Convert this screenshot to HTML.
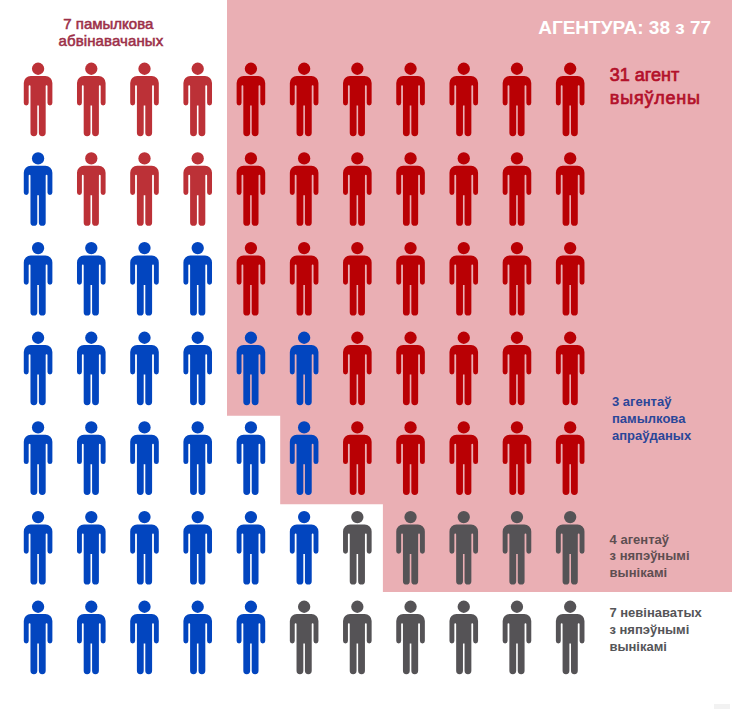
<!DOCTYPE html>
<html><head><meta charset="utf-8">
<style>
html,body{margin:0;padding:0;}
body{width:732px;height:709px;position:relative;overflow:hidden;background:#fff;font-family:"Liberation Sans",sans-serif;}
svg{position:absolute;left:0;top:0;}
.t{position:absolute;white-space:nowrap;font-weight:bold;}
</style></head><body>

<svg width="732" height="709" viewBox="0 0 732 709">
<path fill="#EAAFB4" d="M227 0 H732 V592 H382.9 V504.2 H280.2 V415.8 H227 Z"/>
<g fill="#BC3137" transform="translate(38.08,62.35)"><circle cx="0" cy="6.4" r="6.15"/><path d="M-14.3 40.6 V20.7 A7 7 0 0 1 -7.3 13.7 H7.3 A7 7 0 0 1 14.3 20.7 V40.6 A2.45 2.45 0 0 1 9.4 40.6 V23.7 A0.9 0.9 0 0 0 7.6 23.7 V43.2 H-7.6 V23.7 A0.9 0.9 0 0 0 -9.4 23.7 V40.6 A2.45 2.45 0 0 1 -14.3 40.6 Z M-7.6 40 H-0.8 V70.45 A3.4 3.4 0 0 1 -7.6 70.45 Z M0.8 40 H7.6 V70.45 A3.4 3.4 0 0 1 0.8 70.45 Z"/></g>
<g fill="#BC3137" transform="translate(91.29,62.35)"><circle cx="0" cy="6.4" r="6.15"/><path d="M-14.3 40.6 V20.7 A7 7 0 0 1 -7.3 13.7 H7.3 A7 7 0 0 1 14.3 20.7 V40.6 A2.45 2.45 0 0 1 9.4 40.6 V23.7 A0.9 0.9 0 0 0 7.6 23.7 V43.2 H-7.6 V23.7 A0.9 0.9 0 0 0 -9.4 23.7 V40.6 A2.45 2.45 0 0 1 -14.3 40.6 Z M-7.6 40 H-0.8 V70.45 A3.4 3.4 0 0 1 -7.6 70.45 Z M0.8 40 H7.6 V70.45 A3.4 3.4 0 0 1 0.8 70.45 Z"/></g>
<g fill="#BC3137" transform="translate(144.50,62.35)"><circle cx="0" cy="6.4" r="6.15"/><path d="M-14.3 40.6 V20.7 A7 7 0 0 1 -7.3 13.7 H7.3 A7 7 0 0 1 14.3 20.7 V40.6 A2.45 2.45 0 0 1 9.4 40.6 V23.7 A0.9 0.9 0 0 0 7.6 23.7 V43.2 H-7.6 V23.7 A0.9 0.9 0 0 0 -9.4 23.7 V40.6 A2.45 2.45 0 0 1 -14.3 40.6 Z M-7.6 40 H-0.8 V70.45 A3.4 3.4 0 0 1 -7.6 70.45 Z M0.8 40 H7.6 V70.45 A3.4 3.4 0 0 1 0.8 70.45 Z"/></g>
<g fill="#BC3137" transform="translate(197.71,62.35)"><circle cx="0" cy="6.4" r="6.15"/><path d="M-14.3 40.6 V20.7 A7 7 0 0 1 -7.3 13.7 H7.3 A7 7 0 0 1 14.3 20.7 V40.6 A2.45 2.45 0 0 1 9.4 40.6 V23.7 A0.9 0.9 0 0 0 7.6 23.7 V43.2 H-7.6 V23.7 A0.9 0.9 0 0 0 -9.4 23.7 V40.6 A2.45 2.45 0 0 1 -14.3 40.6 Z M-7.6 40 H-0.8 V70.45 A3.4 3.4 0 0 1 -7.6 70.45 Z M0.8 40 H7.6 V70.45 A3.4 3.4 0 0 1 0.8 70.45 Z"/></g>
<g fill="#B90004" transform="translate(250.92,62.35)"><circle cx="0" cy="6.4" r="6.15"/><path d="M-14.3 40.6 V20.7 A7 7 0 0 1 -7.3 13.7 H7.3 A7 7 0 0 1 14.3 20.7 V40.6 A2.45 2.45 0 0 1 9.4 40.6 V23.7 A0.9 0.9 0 0 0 7.6 23.7 V43.2 H-7.6 V23.7 A0.9 0.9 0 0 0 -9.4 23.7 V40.6 A2.45 2.45 0 0 1 -14.3 40.6 Z M-7.6 40 H-0.8 V70.45 A3.4 3.4 0 0 1 -7.6 70.45 Z M0.8 40 H7.6 V70.45 A3.4 3.4 0 0 1 0.8 70.45 Z"/></g>
<g fill="#B90004" transform="translate(304.13,62.35)"><circle cx="0" cy="6.4" r="6.15"/><path d="M-14.3 40.6 V20.7 A7 7 0 0 1 -7.3 13.7 H7.3 A7 7 0 0 1 14.3 20.7 V40.6 A2.45 2.45 0 0 1 9.4 40.6 V23.7 A0.9 0.9 0 0 0 7.6 23.7 V43.2 H-7.6 V23.7 A0.9 0.9 0 0 0 -9.4 23.7 V40.6 A2.45 2.45 0 0 1 -14.3 40.6 Z M-7.6 40 H-0.8 V70.45 A3.4 3.4 0 0 1 -7.6 70.45 Z M0.8 40 H7.6 V70.45 A3.4 3.4 0 0 1 0.8 70.45 Z"/></g>
<g fill="#B90004" transform="translate(357.34,62.35)"><circle cx="0" cy="6.4" r="6.15"/><path d="M-14.3 40.6 V20.7 A7 7 0 0 1 -7.3 13.7 H7.3 A7 7 0 0 1 14.3 20.7 V40.6 A2.45 2.45 0 0 1 9.4 40.6 V23.7 A0.9 0.9 0 0 0 7.6 23.7 V43.2 H-7.6 V23.7 A0.9 0.9 0 0 0 -9.4 23.7 V40.6 A2.45 2.45 0 0 1 -14.3 40.6 Z M-7.6 40 H-0.8 V70.45 A3.4 3.4 0 0 1 -7.6 70.45 Z M0.8 40 H7.6 V70.45 A3.4 3.4 0 0 1 0.8 70.45 Z"/></g>
<g fill="#B90004" transform="translate(410.55,62.35)"><circle cx="0" cy="6.4" r="6.15"/><path d="M-14.3 40.6 V20.7 A7 7 0 0 1 -7.3 13.7 H7.3 A7 7 0 0 1 14.3 20.7 V40.6 A2.45 2.45 0 0 1 9.4 40.6 V23.7 A0.9 0.9 0 0 0 7.6 23.7 V43.2 H-7.6 V23.7 A0.9 0.9 0 0 0 -9.4 23.7 V40.6 A2.45 2.45 0 0 1 -14.3 40.6 Z M-7.6 40 H-0.8 V70.45 A3.4 3.4 0 0 1 -7.6 70.45 Z M0.8 40 H7.6 V70.45 A3.4 3.4 0 0 1 0.8 70.45 Z"/></g>
<g fill="#B90004" transform="translate(463.76,62.35)"><circle cx="0" cy="6.4" r="6.15"/><path d="M-14.3 40.6 V20.7 A7 7 0 0 1 -7.3 13.7 H7.3 A7 7 0 0 1 14.3 20.7 V40.6 A2.45 2.45 0 0 1 9.4 40.6 V23.7 A0.9 0.9 0 0 0 7.6 23.7 V43.2 H-7.6 V23.7 A0.9 0.9 0 0 0 -9.4 23.7 V40.6 A2.45 2.45 0 0 1 -14.3 40.6 Z M-7.6 40 H-0.8 V70.45 A3.4 3.4 0 0 1 -7.6 70.45 Z M0.8 40 H7.6 V70.45 A3.4 3.4 0 0 1 0.8 70.45 Z"/></g>
<g fill="#B90004" transform="translate(516.97,62.35)"><circle cx="0" cy="6.4" r="6.15"/><path d="M-14.3 40.6 V20.7 A7 7 0 0 1 -7.3 13.7 H7.3 A7 7 0 0 1 14.3 20.7 V40.6 A2.45 2.45 0 0 1 9.4 40.6 V23.7 A0.9 0.9 0 0 0 7.6 23.7 V43.2 H-7.6 V23.7 A0.9 0.9 0 0 0 -9.4 23.7 V40.6 A2.45 2.45 0 0 1 -14.3 40.6 Z M-7.6 40 H-0.8 V70.45 A3.4 3.4 0 0 1 -7.6 70.45 Z M0.8 40 H7.6 V70.45 A3.4 3.4 0 0 1 0.8 70.45 Z"/></g>
<g fill="#B90004" transform="translate(570.18,62.35)"><circle cx="0" cy="6.4" r="6.15"/><path d="M-14.3 40.6 V20.7 A7 7 0 0 1 -7.3 13.7 H7.3 A7 7 0 0 1 14.3 20.7 V40.6 A2.45 2.45 0 0 1 9.4 40.6 V23.7 A0.9 0.9 0 0 0 7.6 23.7 V43.2 H-7.6 V23.7 A0.9 0.9 0 0 0 -9.4 23.7 V40.6 A2.45 2.45 0 0 1 -14.3 40.6 Z M-7.6 40 H-0.8 V70.45 A3.4 3.4 0 0 1 -7.6 70.45 Z M0.8 40 H7.6 V70.45 A3.4 3.4 0 0 1 0.8 70.45 Z"/></g>
<g fill="#0245BF" transform="translate(38.08,152.02)"><circle cx="0" cy="6.4" r="6.15"/><path d="M-14.3 40.6 V20.7 A7 7 0 0 1 -7.3 13.7 H7.3 A7 7 0 0 1 14.3 20.7 V40.6 A2.45 2.45 0 0 1 9.4 40.6 V23.7 A0.9 0.9 0 0 0 7.6 23.7 V43.2 H-7.6 V23.7 A0.9 0.9 0 0 0 -9.4 23.7 V40.6 A2.45 2.45 0 0 1 -14.3 40.6 Z M-7.6 40 H-0.8 V70.45 A3.4 3.4 0 0 1 -7.6 70.45 Z M0.8 40 H7.6 V70.45 A3.4 3.4 0 0 1 0.8 70.45 Z"/></g>
<g fill="#BC3137" transform="translate(91.29,152.02)"><circle cx="0" cy="6.4" r="6.15"/><path d="M-14.3 40.6 V20.7 A7 7 0 0 1 -7.3 13.7 H7.3 A7 7 0 0 1 14.3 20.7 V40.6 A2.45 2.45 0 0 1 9.4 40.6 V23.7 A0.9 0.9 0 0 0 7.6 23.7 V43.2 H-7.6 V23.7 A0.9 0.9 0 0 0 -9.4 23.7 V40.6 A2.45 2.45 0 0 1 -14.3 40.6 Z M-7.6 40 H-0.8 V70.45 A3.4 3.4 0 0 1 -7.6 70.45 Z M0.8 40 H7.6 V70.45 A3.4 3.4 0 0 1 0.8 70.45 Z"/></g>
<g fill="#BC3137" transform="translate(144.50,152.02)"><circle cx="0" cy="6.4" r="6.15"/><path d="M-14.3 40.6 V20.7 A7 7 0 0 1 -7.3 13.7 H7.3 A7 7 0 0 1 14.3 20.7 V40.6 A2.45 2.45 0 0 1 9.4 40.6 V23.7 A0.9 0.9 0 0 0 7.6 23.7 V43.2 H-7.6 V23.7 A0.9 0.9 0 0 0 -9.4 23.7 V40.6 A2.45 2.45 0 0 1 -14.3 40.6 Z M-7.6 40 H-0.8 V70.45 A3.4 3.4 0 0 1 -7.6 70.45 Z M0.8 40 H7.6 V70.45 A3.4 3.4 0 0 1 0.8 70.45 Z"/></g>
<g fill="#BC3137" transform="translate(197.71,152.02)"><circle cx="0" cy="6.4" r="6.15"/><path d="M-14.3 40.6 V20.7 A7 7 0 0 1 -7.3 13.7 H7.3 A7 7 0 0 1 14.3 20.7 V40.6 A2.45 2.45 0 0 1 9.4 40.6 V23.7 A0.9 0.9 0 0 0 7.6 23.7 V43.2 H-7.6 V23.7 A0.9 0.9 0 0 0 -9.4 23.7 V40.6 A2.45 2.45 0 0 1 -14.3 40.6 Z M-7.6 40 H-0.8 V70.45 A3.4 3.4 0 0 1 -7.6 70.45 Z M0.8 40 H7.6 V70.45 A3.4 3.4 0 0 1 0.8 70.45 Z"/></g>
<g fill="#B90004" transform="translate(250.92,152.02)"><circle cx="0" cy="6.4" r="6.15"/><path d="M-14.3 40.6 V20.7 A7 7 0 0 1 -7.3 13.7 H7.3 A7 7 0 0 1 14.3 20.7 V40.6 A2.45 2.45 0 0 1 9.4 40.6 V23.7 A0.9 0.9 0 0 0 7.6 23.7 V43.2 H-7.6 V23.7 A0.9 0.9 0 0 0 -9.4 23.7 V40.6 A2.45 2.45 0 0 1 -14.3 40.6 Z M-7.6 40 H-0.8 V70.45 A3.4 3.4 0 0 1 -7.6 70.45 Z M0.8 40 H7.6 V70.45 A3.4 3.4 0 0 1 0.8 70.45 Z"/></g>
<g fill="#B90004" transform="translate(304.13,152.02)"><circle cx="0" cy="6.4" r="6.15"/><path d="M-14.3 40.6 V20.7 A7 7 0 0 1 -7.3 13.7 H7.3 A7 7 0 0 1 14.3 20.7 V40.6 A2.45 2.45 0 0 1 9.4 40.6 V23.7 A0.9 0.9 0 0 0 7.6 23.7 V43.2 H-7.6 V23.7 A0.9 0.9 0 0 0 -9.4 23.7 V40.6 A2.45 2.45 0 0 1 -14.3 40.6 Z M-7.6 40 H-0.8 V70.45 A3.4 3.4 0 0 1 -7.6 70.45 Z M0.8 40 H7.6 V70.45 A3.4 3.4 0 0 1 0.8 70.45 Z"/></g>
<g fill="#B90004" transform="translate(357.34,152.02)"><circle cx="0" cy="6.4" r="6.15"/><path d="M-14.3 40.6 V20.7 A7 7 0 0 1 -7.3 13.7 H7.3 A7 7 0 0 1 14.3 20.7 V40.6 A2.45 2.45 0 0 1 9.4 40.6 V23.7 A0.9 0.9 0 0 0 7.6 23.7 V43.2 H-7.6 V23.7 A0.9 0.9 0 0 0 -9.4 23.7 V40.6 A2.45 2.45 0 0 1 -14.3 40.6 Z M-7.6 40 H-0.8 V70.45 A3.4 3.4 0 0 1 -7.6 70.45 Z M0.8 40 H7.6 V70.45 A3.4 3.4 0 0 1 0.8 70.45 Z"/></g>
<g fill="#B90004" transform="translate(410.55,152.02)"><circle cx="0" cy="6.4" r="6.15"/><path d="M-14.3 40.6 V20.7 A7 7 0 0 1 -7.3 13.7 H7.3 A7 7 0 0 1 14.3 20.7 V40.6 A2.45 2.45 0 0 1 9.4 40.6 V23.7 A0.9 0.9 0 0 0 7.6 23.7 V43.2 H-7.6 V23.7 A0.9 0.9 0 0 0 -9.4 23.7 V40.6 A2.45 2.45 0 0 1 -14.3 40.6 Z M-7.6 40 H-0.8 V70.45 A3.4 3.4 0 0 1 -7.6 70.45 Z M0.8 40 H7.6 V70.45 A3.4 3.4 0 0 1 0.8 70.45 Z"/></g>
<g fill="#B90004" transform="translate(463.76,152.02)"><circle cx="0" cy="6.4" r="6.15"/><path d="M-14.3 40.6 V20.7 A7 7 0 0 1 -7.3 13.7 H7.3 A7 7 0 0 1 14.3 20.7 V40.6 A2.45 2.45 0 0 1 9.4 40.6 V23.7 A0.9 0.9 0 0 0 7.6 23.7 V43.2 H-7.6 V23.7 A0.9 0.9 0 0 0 -9.4 23.7 V40.6 A2.45 2.45 0 0 1 -14.3 40.6 Z M-7.6 40 H-0.8 V70.45 A3.4 3.4 0 0 1 -7.6 70.45 Z M0.8 40 H7.6 V70.45 A3.4 3.4 0 0 1 0.8 70.45 Z"/></g>
<g fill="#B90004" transform="translate(516.97,152.02)"><circle cx="0" cy="6.4" r="6.15"/><path d="M-14.3 40.6 V20.7 A7 7 0 0 1 -7.3 13.7 H7.3 A7 7 0 0 1 14.3 20.7 V40.6 A2.45 2.45 0 0 1 9.4 40.6 V23.7 A0.9 0.9 0 0 0 7.6 23.7 V43.2 H-7.6 V23.7 A0.9 0.9 0 0 0 -9.4 23.7 V40.6 A2.45 2.45 0 0 1 -14.3 40.6 Z M-7.6 40 H-0.8 V70.45 A3.4 3.4 0 0 1 -7.6 70.45 Z M0.8 40 H7.6 V70.45 A3.4 3.4 0 0 1 0.8 70.45 Z"/></g>
<g fill="#B90004" transform="translate(570.18,152.02)"><circle cx="0" cy="6.4" r="6.15"/><path d="M-14.3 40.6 V20.7 A7 7 0 0 1 -7.3 13.7 H7.3 A7 7 0 0 1 14.3 20.7 V40.6 A2.45 2.45 0 0 1 9.4 40.6 V23.7 A0.9 0.9 0 0 0 7.6 23.7 V43.2 H-7.6 V23.7 A0.9 0.9 0 0 0 -9.4 23.7 V40.6 A2.45 2.45 0 0 1 -14.3 40.6 Z M-7.6 40 H-0.8 V70.45 A3.4 3.4 0 0 1 -7.6 70.45 Z M0.8 40 H7.6 V70.45 A3.4 3.4 0 0 1 0.8 70.45 Z"/></g>
<g fill="#0245BF" transform="translate(38.08,241.69)"><circle cx="0" cy="6.4" r="6.15"/><path d="M-14.3 40.6 V20.7 A7 7 0 0 1 -7.3 13.7 H7.3 A7 7 0 0 1 14.3 20.7 V40.6 A2.45 2.45 0 0 1 9.4 40.6 V23.7 A0.9 0.9 0 0 0 7.6 23.7 V43.2 H-7.6 V23.7 A0.9 0.9 0 0 0 -9.4 23.7 V40.6 A2.45 2.45 0 0 1 -14.3 40.6 Z M-7.6 40 H-0.8 V70.45 A3.4 3.4 0 0 1 -7.6 70.45 Z M0.8 40 H7.6 V70.45 A3.4 3.4 0 0 1 0.8 70.45 Z"/></g>
<g fill="#0245BF" transform="translate(91.29,241.69)"><circle cx="0" cy="6.4" r="6.15"/><path d="M-14.3 40.6 V20.7 A7 7 0 0 1 -7.3 13.7 H7.3 A7 7 0 0 1 14.3 20.7 V40.6 A2.45 2.45 0 0 1 9.4 40.6 V23.7 A0.9 0.9 0 0 0 7.6 23.7 V43.2 H-7.6 V23.7 A0.9 0.9 0 0 0 -9.4 23.7 V40.6 A2.45 2.45 0 0 1 -14.3 40.6 Z M-7.6 40 H-0.8 V70.45 A3.4 3.4 0 0 1 -7.6 70.45 Z M0.8 40 H7.6 V70.45 A3.4 3.4 0 0 1 0.8 70.45 Z"/></g>
<g fill="#0245BF" transform="translate(144.50,241.69)"><circle cx="0" cy="6.4" r="6.15"/><path d="M-14.3 40.6 V20.7 A7 7 0 0 1 -7.3 13.7 H7.3 A7 7 0 0 1 14.3 20.7 V40.6 A2.45 2.45 0 0 1 9.4 40.6 V23.7 A0.9 0.9 0 0 0 7.6 23.7 V43.2 H-7.6 V23.7 A0.9 0.9 0 0 0 -9.4 23.7 V40.6 A2.45 2.45 0 0 1 -14.3 40.6 Z M-7.6 40 H-0.8 V70.45 A3.4 3.4 0 0 1 -7.6 70.45 Z M0.8 40 H7.6 V70.45 A3.4 3.4 0 0 1 0.8 70.45 Z"/></g>
<g fill="#0245BF" transform="translate(197.71,241.69)"><circle cx="0" cy="6.4" r="6.15"/><path d="M-14.3 40.6 V20.7 A7 7 0 0 1 -7.3 13.7 H7.3 A7 7 0 0 1 14.3 20.7 V40.6 A2.45 2.45 0 0 1 9.4 40.6 V23.7 A0.9 0.9 0 0 0 7.6 23.7 V43.2 H-7.6 V23.7 A0.9 0.9 0 0 0 -9.4 23.7 V40.6 A2.45 2.45 0 0 1 -14.3 40.6 Z M-7.6 40 H-0.8 V70.45 A3.4 3.4 0 0 1 -7.6 70.45 Z M0.8 40 H7.6 V70.45 A3.4 3.4 0 0 1 0.8 70.45 Z"/></g>
<g fill="#B90004" transform="translate(250.92,241.69)"><circle cx="0" cy="6.4" r="6.15"/><path d="M-14.3 40.6 V20.7 A7 7 0 0 1 -7.3 13.7 H7.3 A7 7 0 0 1 14.3 20.7 V40.6 A2.45 2.45 0 0 1 9.4 40.6 V23.7 A0.9 0.9 0 0 0 7.6 23.7 V43.2 H-7.6 V23.7 A0.9 0.9 0 0 0 -9.4 23.7 V40.6 A2.45 2.45 0 0 1 -14.3 40.6 Z M-7.6 40 H-0.8 V70.45 A3.4 3.4 0 0 1 -7.6 70.45 Z M0.8 40 H7.6 V70.45 A3.4 3.4 0 0 1 0.8 70.45 Z"/></g>
<g fill="#B90004" transform="translate(304.13,241.69)"><circle cx="0" cy="6.4" r="6.15"/><path d="M-14.3 40.6 V20.7 A7 7 0 0 1 -7.3 13.7 H7.3 A7 7 0 0 1 14.3 20.7 V40.6 A2.45 2.45 0 0 1 9.4 40.6 V23.7 A0.9 0.9 0 0 0 7.6 23.7 V43.2 H-7.6 V23.7 A0.9 0.9 0 0 0 -9.4 23.7 V40.6 A2.45 2.45 0 0 1 -14.3 40.6 Z M-7.6 40 H-0.8 V70.45 A3.4 3.4 0 0 1 -7.6 70.45 Z M0.8 40 H7.6 V70.45 A3.4 3.4 0 0 1 0.8 70.45 Z"/></g>
<g fill="#B90004" transform="translate(357.34,241.69)"><circle cx="0" cy="6.4" r="6.15"/><path d="M-14.3 40.6 V20.7 A7 7 0 0 1 -7.3 13.7 H7.3 A7 7 0 0 1 14.3 20.7 V40.6 A2.45 2.45 0 0 1 9.4 40.6 V23.7 A0.9 0.9 0 0 0 7.6 23.7 V43.2 H-7.6 V23.7 A0.9 0.9 0 0 0 -9.4 23.7 V40.6 A2.45 2.45 0 0 1 -14.3 40.6 Z M-7.6 40 H-0.8 V70.45 A3.4 3.4 0 0 1 -7.6 70.45 Z M0.8 40 H7.6 V70.45 A3.4 3.4 0 0 1 0.8 70.45 Z"/></g>
<g fill="#B90004" transform="translate(410.55,241.69)"><circle cx="0" cy="6.4" r="6.15"/><path d="M-14.3 40.6 V20.7 A7 7 0 0 1 -7.3 13.7 H7.3 A7 7 0 0 1 14.3 20.7 V40.6 A2.45 2.45 0 0 1 9.4 40.6 V23.7 A0.9 0.9 0 0 0 7.6 23.7 V43.2 H-7.6 V23.7 A0.9 0.9 0 0 0 -9.4 23.7 V40.6 A2.45 2.45 0 0 1 -14.3 40.6 Z M-7.6 40 H-0.8 V70.45 A3.4 3.4 0 0 1 -7.6 70.45 Z M0.8 40 H7.6 V70.45 A3.4 3.4 0 0 1 0.8 70.45 Z"/></g>
<g fill="#B90004" transform="translate(463.76,241.69)"><circle cx="0" cy="6.4" r="6.15"/><path d="M-14.3 40.6 V20.7 A7 7 0 0 1 -7.3 13.7 H7.3 A7 7 0 0 1 14.3 20.7 V40.6 A2.45 2.45 0 0 1 9.4 40.6 V23.7 A0.9 0.9 0 0 0 7.6 23.7 V43.2 H-7.6 V23.7 A0.9 0.9 0 0 0 -9.4 23.7 V40.6 A2.45 2.45 0 0 1 -14.3 40.6 Z M-7.6 40 H-0.8 V70.45 A3.4 3.4 0 0 1 -7.6 70.45 Z M0.8 40 H7.6 V70.45 A3.4 3.4 0 0 1 0.8 70.45 Z"/></g>
<g fill="#B90004" transform="translate(516.97,241.69)"><circle cx="0" cy="6.4" r="6.15"/><path d="M-14.3 40.6 V20.7 A7 7 0 0 1 -7.3 13.7 H7.3 A7 7 0 0 1 14.3 20.7 V40.6 A2.45 2.45 0 0 1 9.4 40.6 V23.7 A0.9 0.9 0 0 0 7.6 23.7 V43.2 H-7.6 V23.7 A0.9 0.9 0 0 0 -9.4 23.7 V40.6 A2.45 2.45 0 0 1 -14.3 40.6 Z M-7.6 40 H-0.8 V70.45 A3.4 3.4 0 0 1 -7.6 70.45 Z M0.8 40 H7.6 V70.45 A3.4 3.4 0 0 1 0.8 70.45 Z"/></g>
<g fill="#B90004" transform="translate(570.18,241.69)"><circle cx="0" cy="6.4" r="6.15"/><path d="M-14.3 40.6 V20.7 A7 7 0 0 1 -7.3 13.7 H7.3 A7 7 0 0 1 14.3 20.7 V40.6 A2.45 2.45 0 0 1 9.4 40.6 V23.7 A0.9 0.9 0 0 0 7.6 23.7 V43.2 H-7.6 V23.7 A0.9 0.9 0 0 0 -9.4 23.7 V40.6 A2.45 2.45 0 0 1 -14.3 40.6 Z M-7.6 40 H-0.8 V70.45 A3.4 3.4 0 0 1 -7.6 70.45 Z M0.8 40 H7.6 V70.45 A3.4 3.4 0 0 1 0.8 70.45 Z"/></g>
<g fill="#0245BF" transform="translate(38.08,331.36)"><circle cx="0" cy="6.4" r="6.15"/><path d="M-14.3 40.6 V20.7 A7 7 0 0 1 -7.3 13.7 H7.3 A7 7 0 0 1 14.3 20.7 V40.6 A2.45 2.45 0 0 1 9.4 40.6 V23.7 A0.9 0.9 0 0 0 7.6 23.7 V43.2 H-7.6 V23.7 A0.9 0.9 0 0 0 -9.4 23.7 V40.6 A2.45 2.45 0 0 1 -14.3 40.6 Z M-7.6 40 H-0.8 V70.45 A3.4 3.4 0 0 1 -7.6 70.45 Z M0.8 40 H7.6 V70.45 A3.4 3.4 0 0 1 0.8 70.45 Z"/></g>
<g fill="#0245BF" transform="translate(91.29,331.36)"><circle cx="0" cy="6.4" r="6.15"/><path d="M-14.3 40.6 V20.7 A7 7 0 0 1 -7.3 13.7 H7.3 A7 7 0 0 1 14.3 20.7 V40.6 A2.45 2.45 0 0 1 9.4 40.6 V23.7 A0.9 0.9 0 0 0 7.6 23.7 V43.2 H-7.6 V23.7 A0.9 0.9 0 0 0 -9.4 23.7 V40.6 A2.45 2.45 0 0 1 -14.3 40.6 Z M-7.6 40 H-0.8 V70.45 A3.4 3.4 0 0 1 -7.6 70.45 Z M0.8 40 H7.6 V70.45 A3.4 3.4 0 0 1 0.8 70.45 Z"/></g>
<g fill="#0245BF" transform="translate(144.50,331.36)"><circle cx="0" cy="6.4" r="6.15"/><path d="M-14.3 40.6 V20.7 A7 7 0 0 1 -7.3 13.7 H7.3 A7 7 0 0 1 14.3 20.7 V40.6 A2.45 2.45 0 0 1 9.4 40.6 V23.7 A0.9 0.9 0 0 0 7.6 23.7 V43.2 H-7.6 V23.7 A0.9 0.9 0 0 0 -9.4 23.7 V40.6 A2.45 2.45 0 0 1 -14.3 40.6 Z M-7.6 40 H-0.8 V70.45 A3.4 3.4 0 0 1 -7.6 70.45 Z M0.8 40 H7.6 V70.45 A3.4 3.4 0 0 1 0.8 70.45 Z"/></g>
<g fill="#0245BF" transform="translate(197.71,331.36)"><circle cx="0" cy="6.4" r="6.15"/><path d="M-14.3 40.6 V20.7 A7 7 0 0 1 -7.3 13.7 H7.3 A7 7 0 0 1 14.3 20.7 V40.6 A2.45 2.45 0 0 1 9.4 40.6 V23.7 A0.9 0.9 0 0 0 7.6 23.7 V43.2 H-7.6 V23.7 A0.9 0.9 0 0 0 -9.4 23.7 V40.6 A2.45 2.45 0 0 1 -14.3 40.6 Z M-7.6 40 H-0.8 V70.45 A3.4 3.4 0 0 1 -7.6 70.45 Z M0.8 40 H7.6 V70.45 A3.4 3.4 0 0 1 0.8 70.45 Z"/></g>
<g fill="#0245BF" transform="translate(250.92,331.36)"><circle cx="0" cy="6.4" r="6.15"/><path d="M-14.3 40.6 V20.7 A7 7 0 0 1 -7.3 13.7 H7.3 A7 7 0 0 1 14.3 20.7 V40.6 A2.45 2.45 0 0 1 9.4 40.6 V23.7 A0.9 0.9 0 0 0 7.6 23.7 V43.2 H-7.6 V23.7 A0.9 0.9 0 0 0 -9.4 23.7 V40.6 A2.45 2.45 0 0 1 -14.3 40.6 Z M-7.6 40 H-0.8 V70.45 A3.4 3.4 0 0 1 -7.6 70.45 Z M0.8 40 H7.6 V70.45 A3.4 3.4 0 0 1 0.8 70.45 Z"/></g>
<g fill="#0245BF" transform="translate(304.13,331.36)"><circle cx="0" cy="6.4" r="6.15"/><path d="M-14.3 40.6 V20.7 A7 7 0 0 1 -7.3 13.7 H7.3 A7 7 0 0 1 14.3 20.7 V40.6 A2.45 2.45 0 0 1 9.4 40.6 V23.7 A0.9 0.9 0 0 0 7.6 23.7 V43.2 H-7.6 V23.7 A0.9 0.9 0 0 0 -9.4 23.7 V40.6 A2.45 2.45 0 0 1 -14.3 40.6 Z M-7.6 40 H-0.8 V70.45 A3.4 3.4 0 0 1 -7.6 70.45 Z M0.8 40 H7.6 V70.45 A3.4 3.4 0 0 1 0.8 70.45 Z"/></g>
<g fill="#B90004" transform="translate(357.34,331.36)"><circle cx="0" cy="6.4" r="6.15"/><path d="M-14.3 40.6 V20.7 A7 7 0 0 1 -7.3 13.7 H7.3 A7 7 0 0 1 14.3 20.7 V40.6 A2.45 2.45 0 0 1 9.4 40.6 V23.7 A0.9 0.9 0 0 0 7.6 23.7 V43.2 H-7.6 V23.7 A0.9 0.9 0 0 0 -9.4 23.7 V40.6 A2.45 2.45 0 0 1 -14.3 40.6 Z M-7.6 40 H-0.8 V70.45 A3.4 3.4 0 0 1 -7.6 70.45 Z M0.8 40 H7.6 V70.45 A3.4 3.4 0 0 1 0.8 70.45 Z"/></g>
<g fill="#B90004" transform="translate(410.55,331.36)"><circle cx="0" cy="6.4" r="6.15"/><path d="M-14.3 40.6 V20.7 A7 7 0 0 1 -7.3 13.7 H7.3 A7 7 0 0 1 14.3 20.7 V40.6 A2.45 2.45 0 0 1 9.4 40.6 V23.7 A0.9 0.9 0 0 0 7.6 23.7 V43.2 H-7.6 V23.7 A0.9 0.9 0 0 0 -9.4 23.7 V40.6 A2.45 2.45 0 0 1 -14.3 40.6 Z M-7.6 40 H-0.8 V70.45 A3.4 3.4 0 0 1 -7.6 70.45 Z M0.8 40 H7.6 V70.45 A3.4 3.4 0 0 1 0.8 70.45 Z"/></g>
<g fill="#B90004" transform="translate(463.76,331.36)"><circle cx="0" cy="6.4" r="6.15"/><path d="M-14.3 40.6 V20.7 A7 7 0 0 1 -7.3 13.7 H7.3 A7 7 0 0 1 14.3 20.7 V40.6 A2.45 2.45 0 0 1 9.4 40.6 V23.7 A0.9 0.9 0 0 0 7.6 23.7 V43.2 H-7.6 V23.7 A0.9 0.9 0 0 0 -9.4 23.7 V40.6 A2.45 2.45 0 0 1 -14.3 40.6 Z M-7.6 40 H-0.8 V70.45 A3.4 3.4 0 0 1 -7.6 70.45 Z M0.8 40 H7.6 V70.45 A3.4 3.4 0 0 1 0.8 70.45 Z"/></g>
<g fill="#B90004" transform="translate(516.97,331.36)"><circle cx="0" cy="6.4" r="6.15"/><path d="M-14.3 40.6 V20.7 A7 7 0 0 1 -7.3 13.7 H7.3 A7 7 0 0 1 14.3 20.7 V40.6 A2.45 2.45 0 0 1 9.4 40.6 V23.7 A0.9 0.9 0 0 0 7.6 23.7 V43.2 H-7.6 V23.7 A0.9 0.9 0 0 0 -9.4 23.7 V40.6 A2.45 2.45 0 0 1 -14.3 40.6 Z M-7.6 40 H-0.8 V70.45 A3.4 3.4 0 0 1 -7.6 70.45 Z M0.8 40 H7.6 V70.45 A3.4 3.4 0 0 1 0.8 70.45 Z"/></g>
<g fill="#B90004" transform="translate(570.18,331.36)"><circle cx="0" cy="6.4" r="6.15"/><path d="M-14.3 40.6 V20.7 A7 7 0 0 1 -7.3 13.7 H7.3 A7 7 0 0 1 14.3 20.7 V40.6 A2.45 2.45 0 0 1 9.4 40.6 V23.7 A0.9 0.9 0 0 0 7.6 23.7 V43.2 H-7.6 V23.7 A0.9 0.9 0 0 0 -9.4 23.7 V40.6 A2.45 2.45 0 0 1 -14.3 40.6 Z M-7.6 40 H-0.8 V70.45 A3.4 3.4 0 0 1 -7.6 70.45 Z M0.8 40 H7.6 V70.45 A3.4 3.4 0 0 1 0.8 70.45 Z"/></g>
<g fill="#0245BF" transform="translate(38.08,421.03)"><circle cx="0" cy="6.4" r="6.15"/><path d="M-14.3 40.6 V20.7 A7 7 0 0 1 -7.3 13.7 H7.3 A7 7 0 0 1 14.3 20.7 V40.6 A2.45 2.45 0 0 1 9.4 40.6 V23.7 A0.9 0.9 0 0 0 7.6 23.7 V43.2 H-7.6 V23.7 A0.9 0.9 0 0 0 -9.4 23.7 V40.6 A2.45 2.45 0 0 1 -14.3 40.6 Z M-7.6 40 H-0.8 V70.45 A3.4 3.4 0 0 1 -7.6 70.45 Z M0.8 40 H7.6 V70.45 A3.4 3.4 0 0 1 0.8 70.45 Z"/></g>
<g fill="#0245BF" transform="translate(91.29,421.03)"><circle cx="0" cy="6.4" r="6.15"/><path d="M-14.3 40.6 V20.7 A7 7 0 0 1 -7.3 13.7 H7.3 A7 7 0 0 1 14.3 20.7 V40.6 A2.45 2.45 0 0 1 9.4 40.6 V23.7 A0.9 0.9 0 0 0 7.6 23.7 V43.2 H-7.6 V23.7 A0.9 0.9 0 0 0 -9.4 23.7 V40.6 A2.45 2.45 0 0 1 -14.3 40.6 Z M-7.6 40 H-0.8 V70.45 A3.4 3.4 0 0 1 -7.6 70.45 Z M0.8 40 H7.6 V70.45 A3.4 3.4 0 0 1 0.8 70.45 Z"/></g>
<g fill="#0245BF" transform="translate(144.50,421.03)"><circle cx="0" cy="6.4" r="6.15"/><path d="M-14.3 40.6 V20.7 A7 7 0 0 1 -7.3 13.7 H7.3 A7 7 0 0 1 14.3 20.7 V40.6 A2.45 2.45 0 0 1 9.4 40.6 V23.7 A0.9 0.9 0 0 0 7.6 23.7 V43.2 H-7.6 V23.7 A0.9 0.9 0 0 0 -9.4 23.7 V40.6 A2.45 2.45 0 0 1 -14.3 40.6 Z M-7.6 40 H-0.8 V70.45 A3.4 3.4 0 0 1 -7.6 70.45 Z M0.8 40 H7.6 V70.45 A3.4 3.4 0 0 1 0.8 70.45 Z"/></g>
<g fill="#0245BF" transform="translate(197.71,421.03)"><circle cx="0" cy="6.4" r="6.15"/><path d="M-14.3 40.6 V20.7 A7 7 0 0 1 -7.3 13.7 H7.3 A7 7 0 0 1 14.3 20.7 V40.6 A2.45 2.45 0 0 1 9.4 40.6 V23.7 A0.9 0.9 0 0 0 7.6 23.7 V43.2 H-7.6 V23.7 A0.9 0.9 0 0 0 -9.4 23.7 V40.6 A2.45 2.45 0 0 1 -14.3 40.6 Z M-7.6 40 H-0.8 V70.45 A3.4 3.4 0 0 1 -7.6 70.45 Z M0.8 40 H7.6 V70.45 A3.4 3.4 0 0 1 0.8 70.45 Z"/></g>
<g fill="#0245BF" transform="translate(250.92,421.03)"><circle cx="0" cy="6.4" r="6.15"/><path d="M-14.3 40.6 V20.7 A7 7 0 0 1 -7.3 13.7 H7.3 A7 7 0 0 1 14.3 20.7 V40.6 A2.45 2.45 0 0 1 9.4 40.6 V23.7 A0.9 0.9 0 0 0 7.6 23.7 V43.2 H-7.6 V23.7 A0.9 0.9 0 0 0 -9.4 23.7 V40.6 A2.45 2.45 0 0 1 -14.3 40.6 Z M-7.6 40 H-0.8 V70.45 A3.4 3.4 0 0 1 -7.6 70.45 Z M0.8 40 H7.6 V70.45 A3.4 3.4 0 0 1 0.8 70.45 Z"/></g>
<g fill="#0245BF" transform="translate(304.13,421.03)"><circle cx="0" cy="6.4" r="6.15"/><path d="M-14.3 40.6 V20.7 A7 7 0 0 1 -7.3 13.7 H7.3 A7 7 0 0 1 14.3 20.7 V40.6 A2.45 2.45 0 0 1 9.4 40.6 V23.7 A0.9 0.9 0 0 0 7.6 23.7 V43.2 H-7.6 V23.7 A0.9 0.9 0 0 0 -9.4 23.7 V40.6 A2.45 2.45 0 0 1 -14.3 40.6 Z M-7.6 40 H-0.8 V70.45 A3.4 3.4 0 0 1 -7.6 70.45 Z M0.8 40 H7.6 V70.45 A3.4 3.4 0 0 1 0.8 70.45 Z"/></g>
<g fill="#B90004" transform="translate(357.34,421.03)"><circle cx="0" cy="6.4" r="6.15"/><path d="M-14.3 40.6 V20.7 A7 7 0 0 1 -7.3 13.7 H7.3 A7 7 0 0 1 14.3 20.7 V40.6 A2.45 2.45 0 0 1 9.4 40.6 V23.7 A0.9 0.9 0 0 0 7.6 23.7 V43.2 H-7.6 V23.7 A0.9 0.9 0 0 0 -9.4 23.7 V40.6 A2.45 2.45 0 0 1 -14.3 40.6 Z M-7.6 40 H-0.8 V70.45 A3.4 3.4 0 0 1 -7.6 70.45 Z M0.8 40 H7.6 V70.45 A3.4 3.4 0 0 1 0.8 70.45 Z"/></g>
<g fill="#B90004" transform="translate(410.55,421.03)"><circle cx="0" cy="6.4" r="6.15"/><path d="M-14.3 40.6 V20.7 A7 7 0 0 1 -7.3 13.7 H7.3 A7 7 0 0 1 14.3 20.7 V40.6 A2.45 2.45 0 0 1 9.4 40.6 V23.7 A0.9 0.9 0 0 0 7.6 23.7 V43.2 H-7.6 V23.7 A0.9 0.9 0 0 0 -9.4 23.7 V40.6 A2.45 2.45 0 0 1 -14.3 40.6 Z M-7.6 40 H-0.8 V70.45 A3.4 3.4 0 0 1 -7.6 70.45 Z M0.8 40 H7.6 V70.45 A3.4 3.4 0 0 1 0.8 70.45 Z"/></g>
<g fill="#B90004" transform="translate(463.76,421.03)"><circle cx="0" cy="6.4" r="6.15"/><path d="M-14.3 40.6 V20.7 A7 7 0 0 1 -7.3 13.7 H7.3 A7 7 0 0 1 14.3 20.7 V40.6 A2.45 2.45 0 0 1 9.4 40.6 V23.7 A0.9 0.9 0 0 0 7.6 23.7 V43.2 H-7.6 V23.7 A0.9 0.9 0 0 0 -9.4 23.7 V40.6 A2.45 2.45 0 0 1 -14.3 40.6 Z M-7.6 40 H-0.8 V70.45 A3.4 3.4 0 0 1 -7.6 70.45 Z M0.8 40 H7.6 V70.45 A3.4 3.4 0 0 1 0.8 70.45 Z"/></g>
<g fill="#B90004" transform="translate(516.97,421.03)"><circle cx="0" cy="6.4" r="6.15"/><path d="M-14.3 40.6 V20.7 A7 7 0 0 1 -7.3 13.7 H7.3 A7 7 0 0 1 14.3 20.7 V40.6 A2.45 2.45 0 0 1 9.4 40.6 V23.7 A0.9 0.9 0 0 0 7.6 23.7 V43.2 H-7.6 V23.7 A0.9 0.9 0 0 0 -9.4 23.7 V40.6 A2.45 2.45 0 0 1 -14.3 40.6 Z M-7.6 40 H-0.8 V70.45 A3.4 3.4 0 0 1 -7.6 70.45 Z M0.8 40 H7.6 V70.45 A3.4 3.4 0 0 1 0.8 70.45 Z"/></g>
<g fill="#B90004" transform="translate(570.18,421.03)"><circle cx="0" cy="6.4" r="6.15"/><path d="M-14.3 40.6 V20.7 A7 7 0 0 1 -7.3 13.7 H7.3 A7 7 0 0 1 14.3 20.7 V40.6 A2.45 2.45 0 0 1 9.4 40.6 V23.7 A0.9 0.9 0 0 0 7.6 23.7 V43.2 H-7.6 V23.7 A0.9 0.9 0 0 0 -9.4 23.7 V40.6 A2.45 2.45 0 0 1 -14.3 40.6 Z M-7.6 40 H-0.8 V70.45 A3.4 3.4 0 0 1 -7.6 70.45 Z M0.8 40 H7.6 V70.45 A3.4 3.4 0 0 1 0.8 70.45 Z"/></g>
<g fill="#0245BF" transform="translate(38.08,510.70)"><circle cx="0" cy="6.4" r="6.15"/><path d="M-14.3 40.6 V20.7 A7 7 0 0 1 -7.3 13.7 H7.3 A7 7 0 0 1 14.3 20.7 V40.6 A2.45 2.45 0 0 1 9.4 40.6 V23.7 A0.9 0.9 0 0 0 7.6 23.7 V43.2 H-7.6 V23.7 A0.9 0.9 0 0 0 -9.4 23.7 V40.6 A2.45 2.45 0 0 1 -14.3 40.6 Z M-7.6 40 H-0.8 V70.45 A3.4 3.4 0 0 1 -7.6 70.45 Z M0.8 40 H7.6 V70.45 A3.4 3.4 0 0 1 0.8 70.45 Z"/></g>
<g fill="#0245BF" transform="translate(91.29,510.70)"><circle cx="0" cy="6.4" r="6.15"/><path d="M-14.3 40.6 V20.7 A7 7 0 0 1 -7.3 13.7 H7.3 A7 7 0 0 1 14.3 20.7 V40.6 A2.45 2.45 0 0 1 9.4 40.6 V23.7 A0.9 0.9 0 0 0 7.6 23.7 V43.2 H-7.6 V23.7 A0.9 0.9 0 0 0 -9.4 23.7 V40.6 A2.45 2.45 0 0 1 -14.3 40.6 Z M-7.6 40 H-0.8 V70.45 A3.4 3.4 0 0 1 -7.6 70.45 Z M0.8 40 H7.6 V70.45 A3.4 3.4 0 0 1 0.8 70.45 Z"/></g>
<g fill="#0245BF" transform="translate(144.50,510.70)"><circle cx="0" cy="6.4" r="6.15"/><path d="M-14.3 40.6 V20.7 A7 7 0 0 1 -7.3 13.7 H7.3 A7 7 0 0 1 14.3 20.7 V40.6 A2.45 2.45 0 0 1 9.4 40.6 V23.7 A0.9 0.9 0 0 0 7.6 23.7 V43.2 H-7.6 V23.7 A0.9 0.9 0 0 0 -9.4 23.7 V40.6 A2.45 2.45 0 0 1 -14.3 40.6 Z M-7.6 40 H-0.8 V70.45 A3.4 3.4 0 0 1 -7.6 70.45 Z M0.8 40 H7.6 V70.45 A3.4 3.4 0 0 1 0.8 70.45 Z"/></g>
<g fill="#0245BF" transform="translate(197.71,510.70)"><circle cx="0" cy="6.4" r="6.15"/><path d="M-14.3 40.6 V20.7 A7 7 0 0 1 -7.3 13.7 H7.3 A7 7 0 0 1 14.3 20.7 V40.6 A2.45 2.45 0 0 1 9.4 40.6 V23.7 A0.9 0.9 0 0 0 7.6 23.7 V43.2 H-7.6 V23.7 A0.9 0.9 0 0 0 -9.4 23.7 V40.6 A2.45 2.45 0 0 1 -14.3 40.6 Z M-7.6 40 H-0.8 V70.45 A3.4 3.4 0 0 1 -7.6 70.45 Z M0.8 40 H7.6 V70.45 A3.4 3.4 0 0 1 0.8 70.45 Z"/></g>
<g fill="#0245BF" transform="translate(250.92,510.70)"><circle cx="0" cy="6.4" r="6.15"/><path d="M-14.3 40.6 V20.7 A7 7 0 0 1 -7.3 13.7 H7.3 A7 7 0 0 1 14.3 20.7 V40.6 A2.45 2.45 0 0 1 9.4 40.6 V23.7 A0.9 0.9 0 0 0 7.6 23.7 V43.2 H-7.6 V23.7 A0.9 0.9 0 0 0 -9.4 23.7 V40.6 A2.45 2.45 0 0 1 -14.3 40.6 Z M-7.6 40 H-0.8 V70.45 A3.4 3.4 0 0 1 -7.6 70.45 Z M0.8 40 H7.6 V70.45 A3.4 3.4 0 0 1 0.8 70.45 Z"/></g>
<g fill="#0245BF" transform="translate(304.13,510.70)"><circle cx="0" cy="6.4" r="6.15"/><path d="M-14.3 40.6 V20.7 A7 7 0 0 1 -7.3 13.7 H7.3 A7 7 0 0 1 14.3 20.7 V40.6 A2.45 2.45 0 0 1 9.4 40.6 V23.7 A0.9 0.9 0 0 0 7.6 23.7 V43.2 H-7.6 V23.7 A0.9 0.9 0 0 0 -9.4 23.7 V40.6 A2.45 2.45 0 0 1 -14.3 40.6 Z M-7.6 40 H-0.8 V70.45 A3.4 3.4 0 0 1 -7.6 70.45 Z M0.8 40 H7.6 V70.45 A3.4 3.4 0 0 1 0.8 70.45 Z"/></g>
<g fill="#555356" transform="translate(357.34,510.70)"><circle cx="0" cy="6.4" r="6.15"/><path d="M-14.3 40.6 V20.7 A7 7 0 0 1 -7.3 13.7 H7.3 A7 7 0 0 1 14.3 20.7 V40.6 A2.45 2.45 0 0 1 9.4 40.6 V23.7 A0.9 0.9 0 0 0 7.6 23.7 V43.2 H-7.6 V23.7 A0.9 0.9 0 0 0 -9.4 23.7 V40.6 A2.45 2.45 0 0 1 -14.3 40.6 Z M-7.6 40 H-0.8 V70.45 A3.4 3.4 0 0 1 -7.6 70.45 Z M0.8 40 H7.6 V70.45 A3.4 3.4 0 0 1 0.8 70.45 Z"/></g>
<g fill="#555356" transform="translate(410.55,510.70)"><circle cx="0" cy="6.4" r="6.15"/><path d="M-14.3 40.6 V20.7 A7 7 0 0 1 -7.3 13.7 H7.3 A7 7 0 0 1 14.3 20.7 V40.6 A2.45 2.45 0 0 1 9.4 40.6 V23.7 A0.9 0.9 0 0 0 7.6 23.7 V43.2 H-7.6 V23.7 A0.9 0.9 0 0 0 -9.4 23.7 V40.6 A2.45 2.45 0 0 1 -14.3 40.6 Z M-7.6 40 H-0.8 V70.45 A3.4 3.4 0 0 1 -7.6 70.45 Z M0.8 40 H7.6 V70.45 A3.4 3.4 0 0 1 0.8 70.45 Z"/></g>
<g fill="#555356" transform="translate(463.76,510.70)"><circle cx="0" cy="6.4" r="6.15"/><path d="M-14.3 40.6 V20.7 A7 7 0 0 1 -7.3 13.7 H7.3 A7 7 0 0 1 14.3 20.7 V40.6 A2.45 2.45 0 0 1 9.4 40.6 V23.7 A0.9 0.9 0 0 0 7.6 23.7 V43.2 H-7.6 V23.7 A0.9 0.9 0 0 0 -9.4 23.7 V40.6 A2.45 2.45 0 0 1 -14.3 40.6 Z M-7.6 40 H-0.8 V70.45 A3.4 3.4 0 0 1 -7.6 70.45 Z M0.8 40 H7.6 V70.45 A3.4 3.4 0 0 1 0.8 70.45 Z"/></g>
<g fill="#555356" transform="translate(516.97,510.70)"><circle cx="0" cy="6.4" r="6.15"/><path d="M-14.3 40.6 V20.7 A7 7 0 0 1 -7.3 13.7 H7.3 A7 7 0 0 1 14.3 20.7 V40.6 A2.45 2.45 0 0 1 9.4 40.6 V23.7 A0.9 0.9 0 0 0 7.6 23.7 V43.2 H-7.6 V23.7 A0.9 0.9 0 0 0 -9.4 23.7 V40.6 A2.45 2.45 0 0 1 -14.3 40.6 Z M-7.6 40 H-0.8 V70.45 A3.4 3.4 0 0 1 -7.6 70.45 Z M0.8 40 H7.6 V70.45 A3.4 3.4 0 0 1 0.8 70.45 Z"/></g>
<g fill="#555356" transform="translate(570.18,510.70)"><circle cx="0" cy="6.4" r="6.15"/><path d="M-14.3 40.6 V20.7 A7 7 0 0 1 -7.3 13.7 H7.3 A7 7 0 0 1 14.3 20.7 V40.6 A2.45 2.45 0 0 1 9.4 40.6 V23.7 A0.9 0.9 0 0 0 7.6 23.7 V43.2 H-7.6 V23.7 A0.9 0.9 0 0 0 -9.4 23.7 V40.6 A2.45 2.45 0 0 1 -14.3 40.6 Z M-7.6 40 H-0.8 V70.45 A3.4 3.4 0 0 1 -7.6 70.45 Z M0.8 40 H7.6 V70.45 A3.4 3.4 0 0 1 0.8 70.45 Z"/></g>
<g fill="#0245BF" transform="translate(38.08,600.37)"><circle cx="0" cy="6.4" r="6.15"/><path d="M-14.3 40.6 V20.7 A7 7 0 0 1 -7.3 13.7 H7.3 A7 7 0 0 1 14.3 20.7 V40.6 A2.45 2.45 0 0 1 9.4 40.6 V23.7 A0.9 0.9 0 0 0 7.6 23.7 V43.2 H-7.6 V23.7 A0.9 0.9 0 0 0 -9.4 23.7 V40.6 A2.45 2.45 0 0 1 -14.3 40.6 Z M-7.6 40 H-0.8 V70.45 A3.4 3.4 0 0 1 -7.6 70.45 Z M0.8 40 H7.6 V70.45 A3.4 3.4 0 0 1 0.8 70.45 Z"/></g>
<g fill="#0245BF" transform="translate(91.29,600.37)"><circle cx="0" cy="6.4" r="6.15"/><path d="M-14.3 40.6 V20.7 A7 7 0 0 1 -7.3 13.7 H7.3 A7 7 0 0 1 14.3 20.7 V40.6 A2.45 2.45 0 0 1 9.4 40.6 V23.7 A0.9 0.9 0 0 0 7.6 23.7 V43.2 H-7.6 V23.7 A0.9 0.9 0 0 0 -9.4 23.7 V40.6 A2.45 2.45 0 0 1 -14.3 40.6 Z M-7.6 40 H-0.8 V70.45 A3.4 3.4 0 0 1 -7.6 70.45 Z M0.8 40 H7.6 V70.45 A3.4 3.4 0 0 1 0.8 70.45 Z"/></g>
<g fill="#0245BF" transform="translate(144.50,600.37)"><circle cx="0" cy="6.4" r="6.15"/><path d="M-14.3 40.6 V20.7 A7 7 0 0 1 -7.3 13.7 H7.3 A7 7 0 0 1 14.3 20.7 V40.6 A2.45 2.45 0 0 1 9.4 40.6 V23.7 A0.9 0.9 0 0 0 7.6 23.7 V43.2 H-7.6 V23.7 A0.9 0.9 0 0 0 -9.4 23.7 V40.6 A2.45 2.45 0 0 1 -14.3 40.6 Z M-7.6 40 H-0.8 V70.45 A3.4 3.4 0 0 1 -7.6 70.45 Z M0.8 40 H7.6 V70.45 A3.4 3.4 0 0 1 0.8 70.45 Z"/></g>
<g fill="#0245BF" transform="translate(197.71,600.37)"><circle cx="0" cy="6.4" r="6.15"/><path d="M-14.3 40.6 V20.7 A7 7 0 0 1 -7.3 13.7 H7.3 A7 7 0 0 1 14.3 20.7 V40.6 A2.45 2.45 0 0 1 9.4 40.6 V23.7 A0.9 0.9 0 0 0 7.6 23.7 V43.2 H-7.6 V23.7 A0.9 0.9 0 0 0 -9.4 23.7 V40.6 A2.45 2.45 0 0 1 -14.3 40.6 Z M-7.6 40 H-0.8 V70.45 A3.4 3.4 0 0 1 -7.6 70.45 Z M0.8 40 H7.6 V70.45 A3.4 3.4 0 0 1 0.8 70.45 Z"/></g>
<g fill="#0245BF" transform="translate(250.92,600.37)"><circle cx="0" cy="6.4" r="6.15"/><path d="M-14.3 40.6 V20.7 A7 7 0 0 1 -7.3 13.7 H7.3 A7 7 0 0 1 14.3 20.7 V40.6 A2.45 2.45 0 0 1 9.4 40.6 V23.7 A0.9 0.9 0 0 0 7.6 23.7 V43.2 H-7.6 V23.7 A0.9 0.9 0 0 0 -9.4 23.7 V40.6 A2.45 2.45 0 0 1 -14.3 40.6 Z M-7.6 40 H-0.8 V70.45 A3.4 3.4 0 0 1 -7.6 70.45 Z M0.8 40 H7.6 V70.45 A3.4 3.4 0 0 1 0.8 70.45 Z"/></g>
<g fill="#555356" transform="translate(304.13,600.37)"><circle cx="0" cy="6.4" r="6.15"/><path d="M-14.3 40.6 V20.7 A7 7 0 0 1 -7.3 13.7 H7.3 A7 7 0 0 1 14.3 20.7 V40.6 A2.45 2.45 0 0 1 9.4 40.6 V23.7 A0.9 0.9 0 0 0 7.6 23.7 V43.2 H-7.6 V23.7 A0.9 0.9 0 0 0 -9.4 23.7 V40.6 A2.45 2.45 0 0 1 -14.3 40.6 Z M-7.6 40 H-0.8 V70.45 A3.4 3.4 0 0 1 -7.6 70.45 Z M0.8 40 H7.6 V70.45 A3.4 3.4 0 0 1 0.8 70.45 Z"/></g>
<g fill="#555356" transform="translate(357.34,600.37)"><circle cx="0" cy="6.4" r="6.15"/><path d="M-14.3 40.6 V20.7 A7 7 0 0 1 -7.3 13.7 H7.3 A7 7 0 0 1 14.3 20.7 V40.6 A2.45 2.45 0 0 1 9.4 40.6 V23.7 A0.9 0.9 0 0 0 7.6 23.7 V43.2 H-7.6 V23.7 A0.9 0.9 0 0 0 -9.4 23.7 V40.6 A2.45 2.45 0 0 1 -14.3 40.6 Z M-7.6 40 H-0.8 V70.45 A3.4 3.4 0 0 1 -7.6 70.45 Z M0.8 40 H7.6 V70.45 A3.4 3.4 0 0 1 0.8 70.45 Z"/></g>
<g fill="#555356" transform="translate(410.55,600.37)"><circle cx="0" cy="6.4" r="6.15"/><path d="M-14.3 40.6 V20.7 A7 7 0 0 1 -7.3 13.7 H7.3 A7 7 0 0 1 14.3 20.7 V40.6 A2.45 2.45 0 0 1 9.4 40.6 V23.7 A0.9 0.9 0 0 0 7.6 23.7 V43.2 H-7.6 V23.7 A0.9 0.9 0 0 0 -9.4 23.7 V40.6 A2.45 2.45 0 0 1 -14.3 40.6 Z M-7.6 40 H-0.8 V70.45 A3.4 3.4 0 0 1 -7.6 70.45 Z M0.8 40 H7.6 V70.45 A3.4 3.4 0 0 1 0.8 70.45 Z"/></g>
<g fill="#555356" transform="translate(463.76,600.37)"><circle cx="0" cy="6.4" r="6.15"/><path d="M-14.3 40.6 V20.7 A7 7 0 0 1 -7.3 13.7 H7.3 A7 7 0 0 1 14.3 20.7 V40.6 A2.45 2.45 0 0 1 9.4 40.6 V23.7 A0.9 0.9 0 0 0 7.6 23.7 V43.2 H-7.6 V23.7 A0.9 0.9 0 0 0 -9.4 23.7 V40.6 A2.45 2.45 0 0 1 -14.3 40.6 Z M-7.6 40 H-0.8 V70.45 A3.4 3.4 0 0 1 -7.6 70.45 Z M0.8 40 H7.6 V70.45 A3.4 3.4 0 0 1 0.8 70.45 Z"/></g>
<g fill="#555356" transform="translate(516.97,600.37)"><circle cx="0" cy="6.4" r="6.15"/><path d="M-14.3 40.6 V20.7 A7 7 0 0 1 -7.3 13.7 H7.3 A7 7 0 0 1 14.3 20.7 V40.6 A2.45 2.45 0 0 1 9.4 40.6 V23.7 A0.9 0.9 0 0 0 7.6 23.7 V43.2 H-7.6 V23.7 A0.9 0.9 0 0 0 -9.4 23.7 V40.6 A2.45 2.45 0 0 1 -14.3 40.6 Z M-7.6 40 H-0.8 V70.45 A3.4 3.4 0 0 1 -7.6 70.45 Z M0.8 40 H7.6 V70.45 A3.4 3.4 0 0 1 0.8 70.45 Z"/></g>
<g fill="#555356" transform="translate(570.18,600.37)"><circle cx="0" cy="6.4" r="6.15"/><path d="M-14.3 40.6 V20.7 A7 7 0 0 1 -7.3 13.7 H7.3 A7 7 0 0 1 14.3 20.7 V40.6 A2.45 2.45 0 0 1 9.4 40.6 V23.7 A0.9 0.9 0 0 0 7.6 23.7 V43.2 H-7.6 V23.7 A0.9 0.9 0 0 0 -9.4 23.7 V40.6 A2.45 2.45 0 0 1 -14.3 40.6 Z M-7.6 40 H-0.8 V70.45 A3.4 3.4 0 0 1 -7.6 70.45 Z M0.8 40 H7.6 V70.45 A3.4 3.4 0 0 1 0.8 70.45 Z"/></g>
</svg>
<div class="t" id="t10" style="left:63.30px;top:15.65px;font-size:15px;line-height:15px;color:#9C2F48;font-weight:normal;-webkit-text-stroke:0.55px #9C2F48;">7 памылкова</div>
<div class="t" id="t11" style="left:58.60px;top:33.25px;font-size:15px;line-height:15px;color:#9C2F48;font-weight:normal;-webkit-text-stroke:0.55px #9C2F48;letter-spacing:0.1px;">абвінавачаных</div>
<div class="t" id="t20" style="left:538.20px;top:18.05px;font-size:19px;line-height:19px;color:#ffffff;">АГЕНТУРА: 38 з 77</div>
<div class="t" id="t30" style="left:609.80px;top:66.30px;font-size:18px;line-height:18px;color:#B3102A;font-weight:normal;-webkit-text-stroke:0.7px #B3102A;">31 агент</div>
<div class="t" id="t31" style="left:609.80px;top:88.70px;font-size:18px;line-height:18px;color:#B3102A;font-weight:normal;-webkit-text-stroke:0.7px #B3102A;letter-spacing:0.8px;">выяўлены</div>
<div class="t" id="t40" style="left:612.00px;top:395.25px;font-size:13px;line-height:13px;color:#2A4699;">3 агентаў</div>
<div class="t" id="t41" style="left:612.00px;top:411.95px;font-size:13px;line-height:13px;color:#2A4699;">памылкова</div>
<div class="t" id="t42" style="left:612.00px;top:428.55px;font-size:13px;line-height:13px;color:#2A4699;">апраўданых</div>
<div class="t" id="t50" style="left:609.60px;top:532.85px;font-size:13px;line-height:13px;color:#5E4E51;">4 агентаў</div>
<div class="t" id="t51" style="left:609.60px;top:549.35px;font-size:13px;line-height:13px;color:#5E4E51;">з няпэўнымі</div>
<div class="t" id="t52" style="left:609.60px;top:565.85px;font-size:13px;line-height:13px;color:#5E4E51;">вынікамі</div>
<div class="t" id="t60" style="left:609.40px;top:606.05px;font-size:13px;line-height:13px;color:#555558;">7 невінаватых</div>
<div class="t" id="t61" style="left:609.40px;top:622.85px;font-size:13px;line-height:13px;color:#555558;">з няпэўнымі</div>
<div class="t" id="t62" style="left:609.40px;top:639.75px;font-size:13px;line-height:13px;color:#555558;">вынікамі</div>
<div style="position:absolute;left:714px;top:704px;width:16px;height:5px;background:#F2F2F2;"></div>
</body></html>
